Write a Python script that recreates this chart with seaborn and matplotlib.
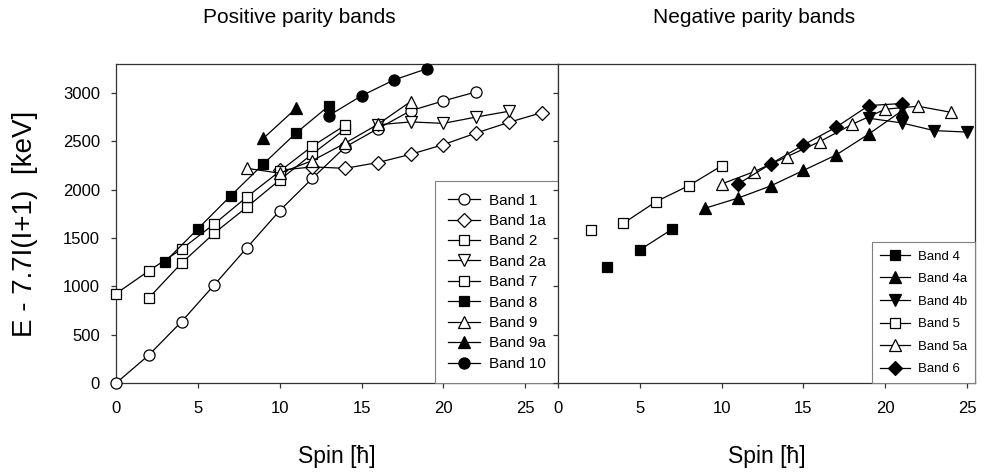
import seaborn as sns
import pandas as pd
import matplotlib.pyplot as plt
from matplotlib.lines import Line2D

# ---- positive parity bands ----
b1_spin = [0, 2, 4, 6, 8, 10, 12, 14, 16, 18, 20, 22]
b1_e = [0, 290, 635, 1015, 1400, 1783, 2117, 2440, 2630, 2815, 2917, 3010]
b1a_spin = [10, 12, 14, 16, 18, 20, 22, 24, 26]
b1a_e = [2200, 2235, 2220, 2280, 2365, 2465, 2585, 2695, 2795]
b2_spin = [2, 4, 6, 8, 10, 12, 14]
b2_e = [880, 1240, 1550, 1820, 2100, 2370, 2625]
b2a_spin = [16, 18, 20, 22, 24]
b2a_e = [2670, 2700, 2685, 2750, 2810]
b7_spin = [0, 2, 4, 6, 8, 10, 12, 14]
b7_e = [925, 1160, 1385, 1645, 1925, 2190, 2450, 2665]
b8_spin = [3, 5, 7, 9, 11, 13]
b8_e = [1255, 1595, 1935, 2265, 2585, 2865]
b9_spin = [8, 10, 12, 14, 16, 18]
b9_e = [2220, 2170, 2300, 2480, 2675, 2910]
b9a_spin = [9, 11]
b9a_e = [2530, 2840]
b10_spin = [13, 15, 17, 19]
b10_e = [2765, 2970, 3135, 3250]

# ---- negative parity bands ----
b4_spin = [3, 5, 7]
b4_e = [1203, 1376, 1593]
b4_seg = [0, 1, 1]          # first point not joined
b4a_spin = [9, 11, 13, 15, 17, 19, 21]
b4a_e = [1808, 1912, 2038, 2198, 2358, 2575, 2812]
b4b_spin = [19, 21, 23, 25]
b4b_e = [2738, 2690, 2610, 2595]
b5_spin = [2, 4, 6, 8, 10]
b5_e = [1578, 1652, 1876, 2041, 2245]
b5_seg = [0, 1, 1, 1, 1]    # first point not joined
b5a_spin = [10, 12, 14, 16, 18, 20, 22, 24]
b5a_e = [2058, 2186, 2341, 2496, 2676, 2831, 2862, 2800]
b6_spin = [11, 13, 15, 17, 19, 21]
b6_e = [2057, 2265, 2462, 2645, 2869, 2890]

W, K = "white", "black"
pos_bands = [
    ("Band 1", b1_spin, b1_e, None, "o", W, 8),
    ("Band 1a", b1a_spin, b1a_e, None, "D", W, 7.5),
    ("Band 2", b2_spin, b2_e, None, "s", W, 7.5),
    ("Band 2a", b2a_spin, b2a_e, None, "v", W, 8.5),
    ("Band 7", b7_spin, b7_e, None, "s", W, 7.5),
    ("Band 8", b8_spin, b8_e, None, "s", K, 7.5),
    ("Band 9", b9_spin, b9_e, None, "^", W, 8.5),
    ("Band 9a", b9a_spin, b9a_e, None, "^", K, 8.5),
    ("Band 10", b10_spin, b10_e, None, "o", K, 8),
]
neg_bands = [
    ("Band 4", b4_spin, b4_e, b4_seg, "s", K, 7.5),
    ("Band 4a", b4a_spin, b4a_e, None, "^", K, 8.5),
    ("Band 4b", b4b_spin, b4b_e, None, "v", K, 8.5),
    ("Band 5", b5_spin, b5_e, b5_seg, "s", W, 7.5),
    ("Band 5a", b5a_spin, b5a_e, None, "^", W, 8.5),
    ("Band 6", b6_spin, b6_e, None, "D", K, 7.5),
]

plt.rcParams["font.family"] = ["Liberation Sans", "DejaVu Sans"]
fig = plt.figure(figsize=(9.92, 4.73), dpi=100)
gs = fig.add_gridspec(1, 2, width_ratios=[27, 25.5], wspace=0,
                      left=0.117, right=0.983, bottom=0.19, top=0.865)
ax1 = fig.add_subplot(gs[0])
ax2 = fig.add_subplot(gs[1], sharey=ax1)


def draw(ax, bands, fs, hl, ls, bp):
    handles = []
    for name, sp, en, seg, mk, fc, ms in bands:
        df = pd.DataFrame({"spin": sp, "E": en,
                           "seg": seg if seg is not None else [1] * len(sp)})
        style = dict(marker=mk, markersize=ms, markerfacecolor=fc,
                     markeredgecolor="black", markeredgewidth=0.9)
        sns.lineplot(data=df, x="spin", y="E", units="seg", estimator=None,
                     color="black", linewidth=0.9, ax=ax, clip_on=False,
                     zorder=3, **style)
        handles.append(Line2D([], [], color="black", linewidth=0.9,
                              label=name, **style))
    leg = ax.legend(handles=handles, loc="lower right", borderaxespad=0,
                    fontsize=fs, handlelength=hl, handletextpad=0.6,
                    labelspacing=ls, fancybox=False, framealpha=1,
                    borderpad=bp)
    leg.get_frame().set_edgecolor("#808080")
    leg.get_frame().set_linewidth(0.8)
    leg.set_zorder(5)


draw(ax1, pos_bands, 11, 2.1, 0.42, 0.8)
draw(ax2, neg_bands, 9.5, 2.3, 0.78, 0.6)

ax1.set_xlim(0, 27)
ax2.set_xlim(0, 25.5)
ax1.set_ylim(0, 3300)
for ax in (ax1, ax2):
    ax.set_xticks([0, 5, 10, 15, 20, 25])
    ax.set_yticks(range(0, 3001, 500))
    ax.tick_params(direction="out", length=3.6, width=0.9, labelsize=12,
                   color="#333333")
    ax.tick_params(axis="x", pad=9)
    ax.tick_params(axis="y", pad=8)
    for s in ax.spines.values():
        s.set_linewidth(0.9)
        s.set_color("#333333")
    ax.set_xlabel("Spin [ħ]", fontsize=16.5, labelpad=21)
    ax.set_ylabel("")
ax2.tick_params(labelleft=False)
ax1.set_ylabel("E - 7.7I(I+1)  [keV]", fontsize=20, labelpad=18)

fig.text(0.302, 0.962, "Positive parity bands", ha="center", va="center",
         fontsize=15)
fig.text(0.760, 0.962, "Negative parity bands", ha="center", va="center",
         fontsize=15)

fig.savefig("out.png", dpi=100)
